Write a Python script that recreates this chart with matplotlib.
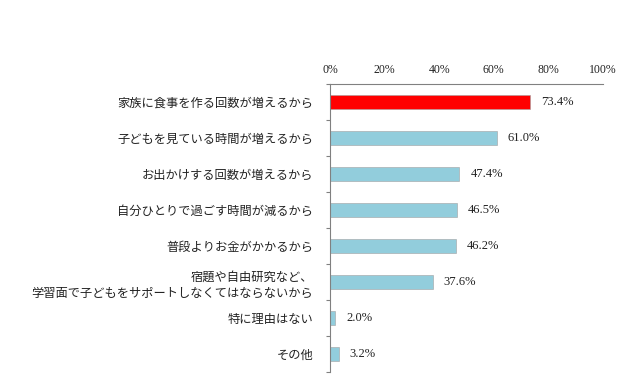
import matplotlib
matplotlib.use("Agg")
import matplotlib.pyplot as plt
import numpy as np

plt.rcParams['font.family'] = ['Noto Sans CJK JP', 'DejaVu Sans']

categories = [
    '家族に食事を作る回数が増えるから',
    '子どもを見ている時間が増えるから',
    'お出かけする回数が増えるから',
    '自分ひとりで過ごす時間が減るから',
    '普段よりお金がかかるから',
    '宿題や自由研究など、\n学習面で子どもをサポートしなくてはならないから',
    '特に理由はない',
    'その他',
]
values = [73.4, 61.0, 47.4, 46.5, 46.2, 37.6, 2.0, 3.2]
colors = ['#ff0000'] + ['#92cddc'] * 7
x_ticks = [0, 20, 40, 60, 80, 100]

fig = plt.figure(figsize=(6.4, 3.85), dpi=100)
ax = fig.add_axes([0.5156, 0.034, 0.4266, 0.748])

y = np.arange(len(categories))
ax.barh(y, values, height=0.37, color=colors, edgecolor='#a0a0a0', linewidth=0.4)

for yi, v in zip(y, values):
    ax.text(v + 4, yi, f'{v:.1f}%', va='center', ha='left',
            fontsize=9, family='Liberation Serif', color='#222222')

ax.set_xlim(0, 100)
ax.set_ylim(len(categories) - 0.5, -0.5)
ax.xaxis.tick_top()
ax.set_xticks(x_ticks)
ax.set_xticklabels([f'{t}%' for t in x_ticks], family='Liberation Serif', fontsize=8.5, color='#222222')
ax.tick_params(axis='x', length=0, pad=6)

ax.set_yticks(y)
ax.set_yticklabels(categories, fontsize=8.8, color='#222222', linespacing=1.3)
ax.tick_params(axis='y', which='major', length=0, pad=12)
ax.set_yticks(np.arange(-0.5, len(categories), 1), minor=True)
ax.tick_params(axis='y', which='minor', length=3, color='#808080', width=0.8)

for s in ['right', 'bottom']:
    ax.spines[s].set_visible(False)
for s in ['left', 'top']:
    ax.spines[s].set_color('#808080')
    ax.spines[s].set_linewidth(0.8)

fig.savefig('out.png', dpi=100)
